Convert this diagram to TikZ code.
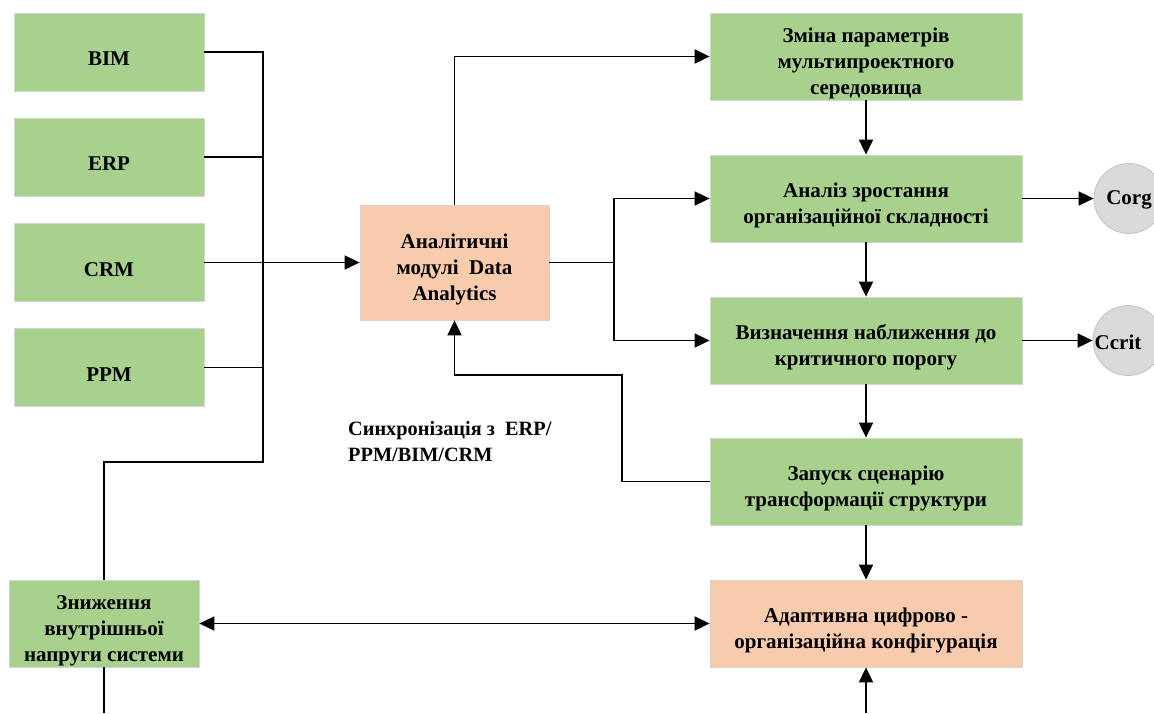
\documentclass[tikz,border=0pt]{standalone}
\usepackage{fontspec}
\setmainfont{Liberation Serif}
\usetikzlibrary{arrows.meta}
\definecolor{boxgreen}{HTML}{A9D18E}
\definecolor{boxorange}{HTML}{F8CBAD}
\definecolor{boxedge}{HTML}{D4D4D4}
\definecolor{circfill}{HTML}{D9D9D9}
\definecolor{circedge}{HTML}{C4C4C4}
\begin{document}
\begin{tikzpicture}[x=1pt,y=-1pt,
  txt/.style={font=\bfseries\fontsize{21}{26}\selectfont, align=center},
  block/.style={draw=boxedge, line width=0.8pt, inner sep=0pt},
  gbox/.style={block, fill=boxgreen},
  obox/.style={block, fill=boxorange},
  says/.style={label={[txt, yshift=-7pt]center:{#1}}},
  leftbox/.style={minimum width=190pt, minimum height=78pt},
  rightbox/.style={minimum width=312pt, minimum height=87pt},
  circ/.style={circle, fill=circfill, draw=circedge, line width=0.8pt, minimum size=70pt, inner sep=0pt},
  wire/.style={line width=1.9pt, black},
  arr/.style={wire, -{Triangle[length=15pt,width=14pt]}},
  dblarr/.style={wire, {Triangle[length=15pt,width=14pt]}-{Triangle[length=15pt,width=14pt]}}]
\useasboundingbox (0,0) rectangle (1154,713);

% input systems
\node[gbox, leftbox, says={BIM}] (bim) at (109,52) {};
\node[gbox, leftbox, says={ERP}] (erp) at (109,157) {};
\node[gbox, leftbox, says={CRM}] (crm) at (109,262.5) {};
\node[gbox, leftbox, says={PPM}] (ppm) at (109,367.5) {};

% analytics
\node[obox, minimum width=189pt, minimum height=115pt,
  says={Аналітичні\\модулі\ \ Data\\Analytics}] (ana) at (454.5,262.5) {};

% right column
\node[gbox, rightbox, says={Зміна параметрів\\мультипроектного\\середовища}] (r1) at (866,56.5) {};
\node[gbox, rightbox, says={Аналіз зростання\\організаційної складності}] (r2) at (866,198.5) {};
\node[gbox, rightbox, says={Визначення наближення до\\критичного порогу}] (r3) at (866,340.5) {};
\node[gbox, rightbox, says={Запуск сценарію\\трансформації структури}] (r4) at (866,481.5) {};
\node[obox, rightbox, says={Адаптивна цифрово -\\організаційна конфігурація}] (r5) at (866,623.5) {};

% reduction of tension
\node[gbox, minimum width=190pt, minimum height=87pt,
  says={Зниження\\внутрішньої\\напруги системи}] (low) at (104,623.5) {};

% indicators
\node[circ] (corg) at (1129,198.5) {};
\node[txt] at (1129,200) {Corg};
\node[circ] (ccrit) at (1128,340.5) {};
\node[txt] at (1118,342) {Ccrit};

% caption
\node[txt, font=\bfseries\fontsize{20.3}{26}\selectfont, align=left, anchor=north west, inner sep=0pt] (sync) at (348,421)
  {Синхронізація з\ \ ERP/\\PPM/BIM/CRM};

% junction points
\coordinate (busb) at (263,462);
\coordinate (split) at (614,262.5);
\coordinate (via) at (622,375);
\coordinate (lowend) at (104,713);
\coordinate (r5in) at (866,713);

% bus from the input systems
\draw[wire] (bim.east) -| (busb) -| (low.north);
\draw[wire] (erp.east) -- (erp.east -| busb);
\draw[wire] (ppm.east) -- (ppm.east -| busb);
\draw[arr] (crm.east) -- (ana.west);

% analytics outputs
\draw[arr] (ana.north) |- (r1.west);
\draw[wire] (ana.east) -- (split);
\draw[arr] (split) |- (r2.west);
\draw[arr] (split) |- (r3.west);

% chain on the right
\draw[arr] (r1.south) -- (r2.north);
\draw[arr] (r2.south) -- (r3.north);
\draw[arr] (r3.south) -- (r4.north);
\draw[arr] (r4.south) -- (r5.north);
\draw[arr] (r2.east) -- (corg.west);
\draw[arr] (r3.east) -- (ccrit.west);

% feedback to analytics
\draw[arr] (r4.west) -| (via) -| (ana.south);

% bottom links
\draw[dblarr] (low.east) -- (r5.west);
\draw[wire] (low.south) -- (lowend);
\draw[arr] (r5in) -- (r5.south);
\end{tikzpicture}
\end{document}
